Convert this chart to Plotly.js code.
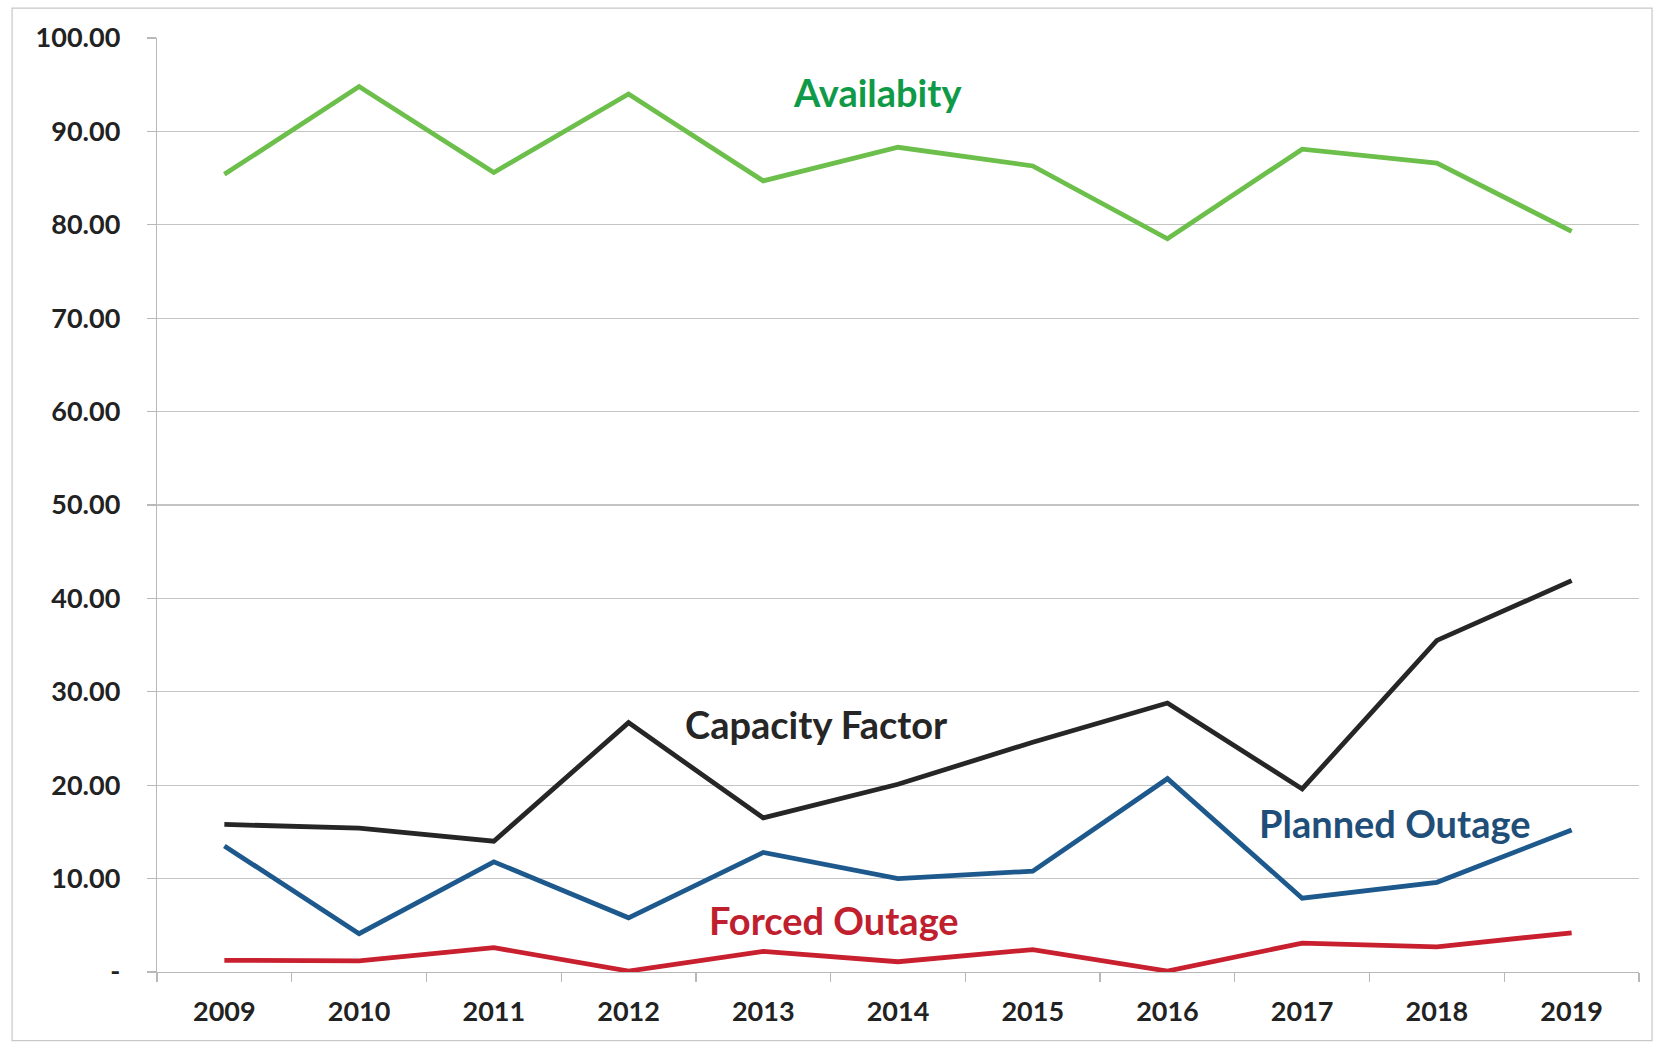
<!DOCTYPE html>
<html>
<head>
<meta charset="utf-8">
<script src="https://cdn.plot.ly/plotly-3.0.1.min.js"></script>
<style>
  html, body { margin: 0; padding: 0; background: #ffffff; }
  #chart { width: 1663px; height: 1044px; }
</style>
</head>
<body>
<div id="chart"></div>
<script>
const years = ["2009","2010","2011","2012","2013","2014","2015","2016","2017","2018","2019"];
const availability = [85.4, 94.8, 85.6, 94.0, 84.7, 88.3, 86.3, 78.5, 88.1, 86.6, 79.3];
const capacityFactor = [15.8, 15.4, 14.0, 26.7, 16.5, 20.1, 24.6, 28.8, 19.6, 35.5, 41.9];
const plannedOutage = [13.5, 4.1, 11.8, 5.8, 12.8, 10.0, 10.8, 20.7, 7.9, 9.6, 15.2];
const forcedOutage = [1.25, 1.2, 2.6, 0.1, 2.2, 1.1, 2.4, 0.1, 3.1, 2.7, 4.2];
const yTickVals = [0, 10, 20, 30, 40, 50, 60, 70, 80, 90, 100];
const yTickText = ["-", "10.00", "20.00", "30.00", "40.00", "50.00", "60.00", "70.00", "80.00", "90.00", "100.00"];

const FONT = "Lato, 'Open Sans', 'Noto Sans', sans-serif";

function line(name, y, color) {
  return {
    type: "scatter", mode: "lines", name: name,
    x: years, y: y,
    line: { color: color, width: 4.8 },
    hoverinfo: "x+y+name"
  };
}

const data = [
  line("Availabity", availability, "#6cbf4b"),
  line("Capacity Factor", capacityFactor, "#262626"),
  line("Planned Outage", plannedOutage, "#1d598c"),
  line("Forced Outage", forcedOutage, "#c8202e")
];

function label(text, xp, yv, color) {
  return {
    text: "<b>" + text + "</b>", xref: "paper", yref: "y", x: xp, y: yv,
    showarrow: false, xanchor: "center", yanchor: "middle",
    font: { family: FONT, size: 38, color: color }
  };
}

const layout = {
  width: 1663, height: 1044,
  paper_bgcolor: "#ffffff", plot_bgcolor: "#ffffff",
  margin: { l: 157, r: 24, t: 38, b: 72, pad: 0 },
  showlegend: false,
  font: { family: FONT, color: "#222222" },
  xaxis: {
    type: "category",
    range: [-0.5, years.length - 0.5],
    tickson: "boundaries",
    ticks: "outside", ticklen: 9, tickcolor: "#b8b8b8", tickwidth: 1.3,
    showline: true, linecolor: "#b8b8b8", linewidth: 1.3,
    showgrid: false, zeroline: false,
    tickfont: { family: FONT, size: 27, color: "#222222", weight: "bold" },
    ticklabelstandoff: 15
  },
  yaxis: {
    range: [0, 100],
    tickvals: yTickVals, ticktext: yTickText,
    ticks: "outside", ticklen: 9, tickcolor: "#b8b8b8", tickwidth: 1.3,
    showline: true, linecolor: "#b8b8b8", linewidth: 1.3,
    showgrid: true, gridcolor: "#c4c4c4", gridwidth: 1.3,
    zeroline: false,
    tickfont: { family: FONT, size: 27, color: "#222222", weight: "bold" },
    ticklabelstandoff: 21
  },
  annotations: [
    label("Availabity", 0.4865, 94.2, "#0f9a48"),
    label("Capacity Factor", 0.445, 26.5, "#262626"),
    label("Planned Outage", 0.835, 15.9, "#1f4e79"),
    label("Forced Outage", 0.4566, 5.57, "#c0202e")
  ],
  shapes: [
    {
      type: "rect", xref: "paper", yref: "paper",
      x0: -0.0978, x1: 1.0088, y0: -0.0734, y1: 1.032,
      line: { color: "#c8c8c8", width: 1.2 }, fillcolor: "rgba(0,0,0,0)", layer: "below"
    }
  ]
};

Plotly.newPlot("chart", data, layout, { displayModeBar: false, staticPlot: true });
</script>
</body>
</html>
